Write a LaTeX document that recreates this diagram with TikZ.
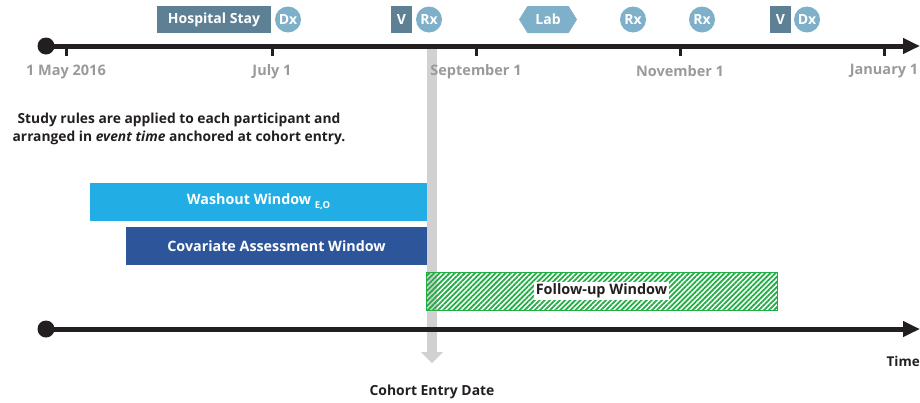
\documentclass[tikz,border=0pt]{standalone}
\usepackage{fontspec}
\setmainfont{Open Sans}
\usetikzlibrary{arrows.meta,patterns.meta,shapes.symbols}
\definecolor{slate}{HTML}{5E8094}
\definecolor{circ}{HTML}{7EB0C9}
\definecolor{washc}{HTML}{22AEE4}
\definecolor{covc}{HTML}{2D5599}
\definecolor{fugreen}{HTML}{22AD45}
\definecolor{barg}{HTML}{D1D1D3}
\definecolor{lblg}{HTML}{9A9A9A}
\definecolor{axc}{HTML}{231F20}
\tikzset{
  axisline/.style={draw=axc,line width=5pt,-{Triangle[length=17pt,width=15pt]}},
  dotnode/.style={circle,fill=axc,inner sep=0pt,minimum size=17pt},
  ticklab/.style={text=lblg,font=\fontsize{14.5}{16}\selectfont\bfseries},
  evbox/.style={fill=slate,text=white,font=\fontsize{14}{16}\selectfont\bfseries,inner sep=0pt,minimum height=27pt},
  evcirc/.style={circle,fill=circ,text=white,font=\fontsize{14}{16}\selectfont\bfseries,inner sep=0pt,minimum size=26pt},
  winbox/.style={text=white,font=\fontsize{14.3}{16}\selectfont\bfseries,inner sep=0pt,minimum height=38pt},
}
\begin{document}
\begin{tikzpicture}[x=1pt,y=-1pt]
\useasboundingbox (0,0) rectangle (920,402);
% cohort entry bar
\fill[barg] (427,46) rectangle (437,352);
\fill[barg] (421,352) -- (443,352) -- (432,363) -- cycle;
\node[font=\fontsize{13.9}{15}\selectfont\bfseries,text=axc] (ced) at (432,392) {Cohort Entry Date};
% top axis
\node[dotnode] (d1) at (46,46) {};
\coordinate (e1) at (920,46);
\draw[axisline] (d1.center) -- (e1);
\foreach \x/\t/\n in {66/1 May 2016/a,272/July 1/b,476/September 1/c,680/November 1/d,884/January 1/e}{
  \coordinate (t\n) at (\x,46);
  \coordinate (tb\n) at (\x,56);
  \draw[axc,line width=3pt] (t\n) -- (tb\n);
  \node[ticklab] (l\n) at (\x,71.5) {\t};
}
% events
\node[evbox,minimum width=114pt] (hs) at (214,19.5) {Hospital Stay};
\node[evcirc] (dx1) at (288,19.5) {Dx};
\node[evbox,minimum width=21pt] (v1) at (401.5,19.5) {V};
\node[evcirc] (rx1) at (429,19.5) {Rx};
\node[signal,signal to=west and east,signal pointer angle=116,fill=circ,text=white,font=\fontsize{14}{16}\selectfont\bfseries,inner sep=0pt,minimum width=58pt,minimum height=27pt] (lab) at (548,19.5) {Lab};
\node[evcirc] (rx2) at (633,19.5) {Rx};
\node[evcirc] (rx3) at (702,19.5) {Rx};
\node[evbox,minimum width=21pt] (v2) at (780.5,19.5) {V};
\node[evcirc] (dx2) at (807,19.5) {Dx};
% study text
\node[align=center,font=\fontsize{13.8}{18}\selectfont\bfseries,text=axc] (study) at (179,129)
  {Study rules are applied to each participant and\\arranged in \textit{event time} anchored at cohort entry.};
% windows
\node[winbox,fill=washc,minimum width=337pt] (wash) at (258.5,202)
  {Washout Window {\fontsize{9.5}{9}\selectfont\raisebox{-4pt}{E,O}}};
\node[winbox,fill=covc,minimum width=301pt] (cov) at (276.5,246) {Covariate Assessment Window};
\path[pattern={Lines[angle=45,distance=3.6pt,line width=1.8pt]},pattern color=fugreen,draw=fugreen,line width=1pt]
  (426,272) rectangle (777,310);
\node[fill=white,inner sep=1.5pt,font=\fontsize{14.4}{16}\selectfont\bfseries,text=axc] (fu) at (601.5,291) {Follow-up Window};
% bottom axis
\node[dotnode] (d2) at (46,329) {};
\coordinate (e2) at (920,329);
\draw[axisline] (d2.center) -- (e2);
\node[anchor=east,inner sep=0pt,font=\fontsize{13.5}{15}\selectfont\bfseries,text=axc] (time) at (920,361) {Time};
\end{tikzpicture}
\end{document}
